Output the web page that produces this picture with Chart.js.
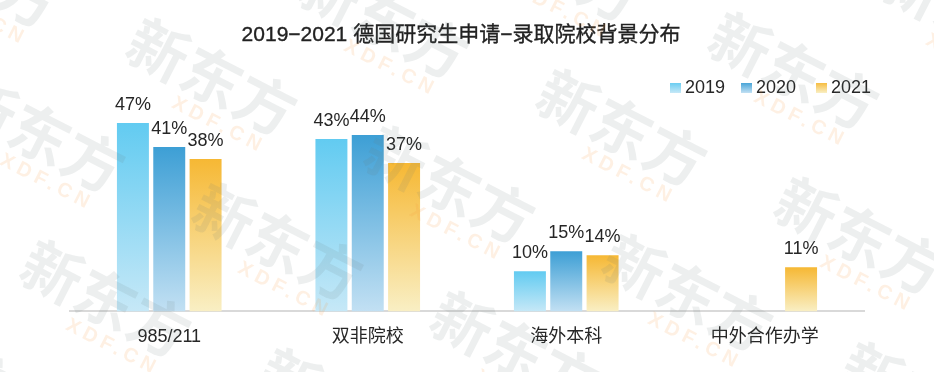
<!DOCTYPE html>
<html>
<head>
<meta charset="utf-8">
<script src="https://cdn.jsdelivr.net/npm/chart.js@4"></script>
<style>
html,body{margin:0;padding:0;background:#fff;}
#c{display:block;}
</style>
</head>
<body>
<canvas id="c" width="934" height="372"></canvas>
<script>
const titleText = '2019−2021 德国研究生申请−录取院校背景分布';
const categories = ['985/211', '双非院校', '海外本科', '中外合作办学'];
const years = ['2019', '2020', '2021'];
const values2019 = [47, 43, 10, null];
const values2020 = [41, 44, 15, null];
const values2021 = [38, 37, 14, 11];
const yMax = 50;

const FONT = '"Liberation Sans", "Noto Sans CJK SC", sans-serif';
const gradStops = {
  '2019': ['#62cbf1', '#c6e8f7'],
  '2020': ['#3d9fd5', '#c2e0f3'],
  '2021': ['#f6b834', '#f9efc4']
};

function barGradient(year) {
  const [top, bottom] = gradStops[year];
  return (ctx) => {
    const chart = ctx.chart;
    const ys = chart.scales && chart.scales.y;
    if (!chart.chartArea || !ys || ctx.raw == null) return top;
    const y0 = ys.getPixelForValue(ctx.raw);
    const y1 = ys.getPixelForValue(0);
    if (!isFinite(y0) || !isFinite(y1) || y0 === y1) return top;
    const g = chart.ctx.createLinearGradient(0, y0, 0, y1);
    g.addColorStop(0, top);
    g.addColorStop(1, bottom);
    return g;
  };
}

const overlayPlugin = {
  id: 'overlay',
  afterDatasetsDraw(chart) {
    const ctx = chart.ctx;
    ctx.save();
    // data labels
    ctx.font = '18px ' + FONT;
    ctx.fillStyle = '#262626';
    ctx.textAlign = 'center';
    ctx.textBaseline = 'alphabetic';
    chart.data.datasets.forEach((ds, di) => {
      const meta = chart.getDatasetMeta(di);
      meta.data.forEach((el, i) => {
        const v = ds.data[i];
        if (v == null) return;
        ctx.fillText(v + '%', el.x, el.y - 13);
      });
    });
    // title
    ctx.font = '21px ' + FONT;
    ctx.fillStyle = '#222';
    ctx.strokeStyle = '#222';
    ctx.lineWidth = 0.35;
    ctx.textBaseline = 'middle';
    ctx.fillText(titleText, 461, 35);
    ctx.strokeText(titleText, 461, 35);
    // legend
    const legendX = [670, 741, 816];
    ctx.font = '18px ' + FONT;
    ctx.textAlign = 'left';
    years.forEach((y, k) => {
      const x = legendX[k];
      const g = ctx.createLinearGradient(0, 82, 0, 93);
      g.addColorStop(0, gradStops[y][0]);
      g.addColorStop(1, gradStops[y][1]);
      ctx.fillStyle = g;
      ctx.fillRect(x, 83, 11, 10);
      ctx.fillStyle = '#262626';
      ctx.fillText(y, x + 15, 88);
    });
    ctx.restore();
  },
  afterDraw(chart) {
    // watermark
    const ctx = chart.ctx;
    const ang = 27 * Math.PI / 180;
    const ox = 226, oy = 122;
    const u = [172, -57], v = [238, 108];
    ctx.save();
    for (let i = -5; i <= 7; i++) {
      for (let j = -4; j <= 5; j++) {
        const cx = ox + i * u[0] + j * v[0];
        const cy = oy + i * u[1] + j * v[1];
        const mx = cx - 14, my = cy - 45;
        if (mx < -180 || mx > 1110 || my < -120 || my > 500) continue;
        ctx.save();
        ctx.translate(mx, my);
        ctx.rotate(ang);
        ctx.textAlign = 'center';
        ctx.textBaseline = 'middle';
        ctx.font = 'bold 60px "Noto Sans CJK SC", sans-serif';
        ctx.fillStyle = 'rgba(110,125,125,0.12)';
        ctx.fillText('新东方', 0, 0);
        ctx.font = 'bold 20px "Liberation Sans", sans-serif';
        try { ctx.letterSpacing = '5px'; } catch (e) {}
        ctx.fillStyle = 'rgba(245,150,60,0.14)';
        ctx.fillText('XDF.CN', 28, 40);
        ctx.restore();
      }
    }
    ctx.restore();
  }
};

new Chart(document.getElementById('c'), {
  type: 'bar',
  data: {
    labels: categories,
    datasets: [
      { label: years[0], data: values2019, backgroundColor: barGradient('2019') },
      { label: years[1], data: values2020, backgroundColor: barGradient('2020') },
      { label: years[2], data: values2021, backgroundColor: barGradient('2021') }
    ]
  },
  options: {
    responsive: false,
    animation: false,
    devicePixelRatio: 1,
    categoryPercentage: 0.549,
    barPercentage: 0.88,
    layout: { padding: { top: 111, left: 70, right: 70, bottom: 9 } },
    plugins: { legend: { display: false }, title: { display: false }, tooltip: { enabled: false } },
    scales: {
      x: {
        grid: { display: false, drawTicks: false },
        border: { display: true, color: '#d9d9d9', width: 2 },
        ticks: { color: '#262626', font: { size: 18, family: FONT }, padding: 15 }
      },
      y: {
        display: false,
        min: 0,
        max: yMax
      }
    }
  },
  plugins: [overlayPlugin]
});
</script>
</body>
</html>
